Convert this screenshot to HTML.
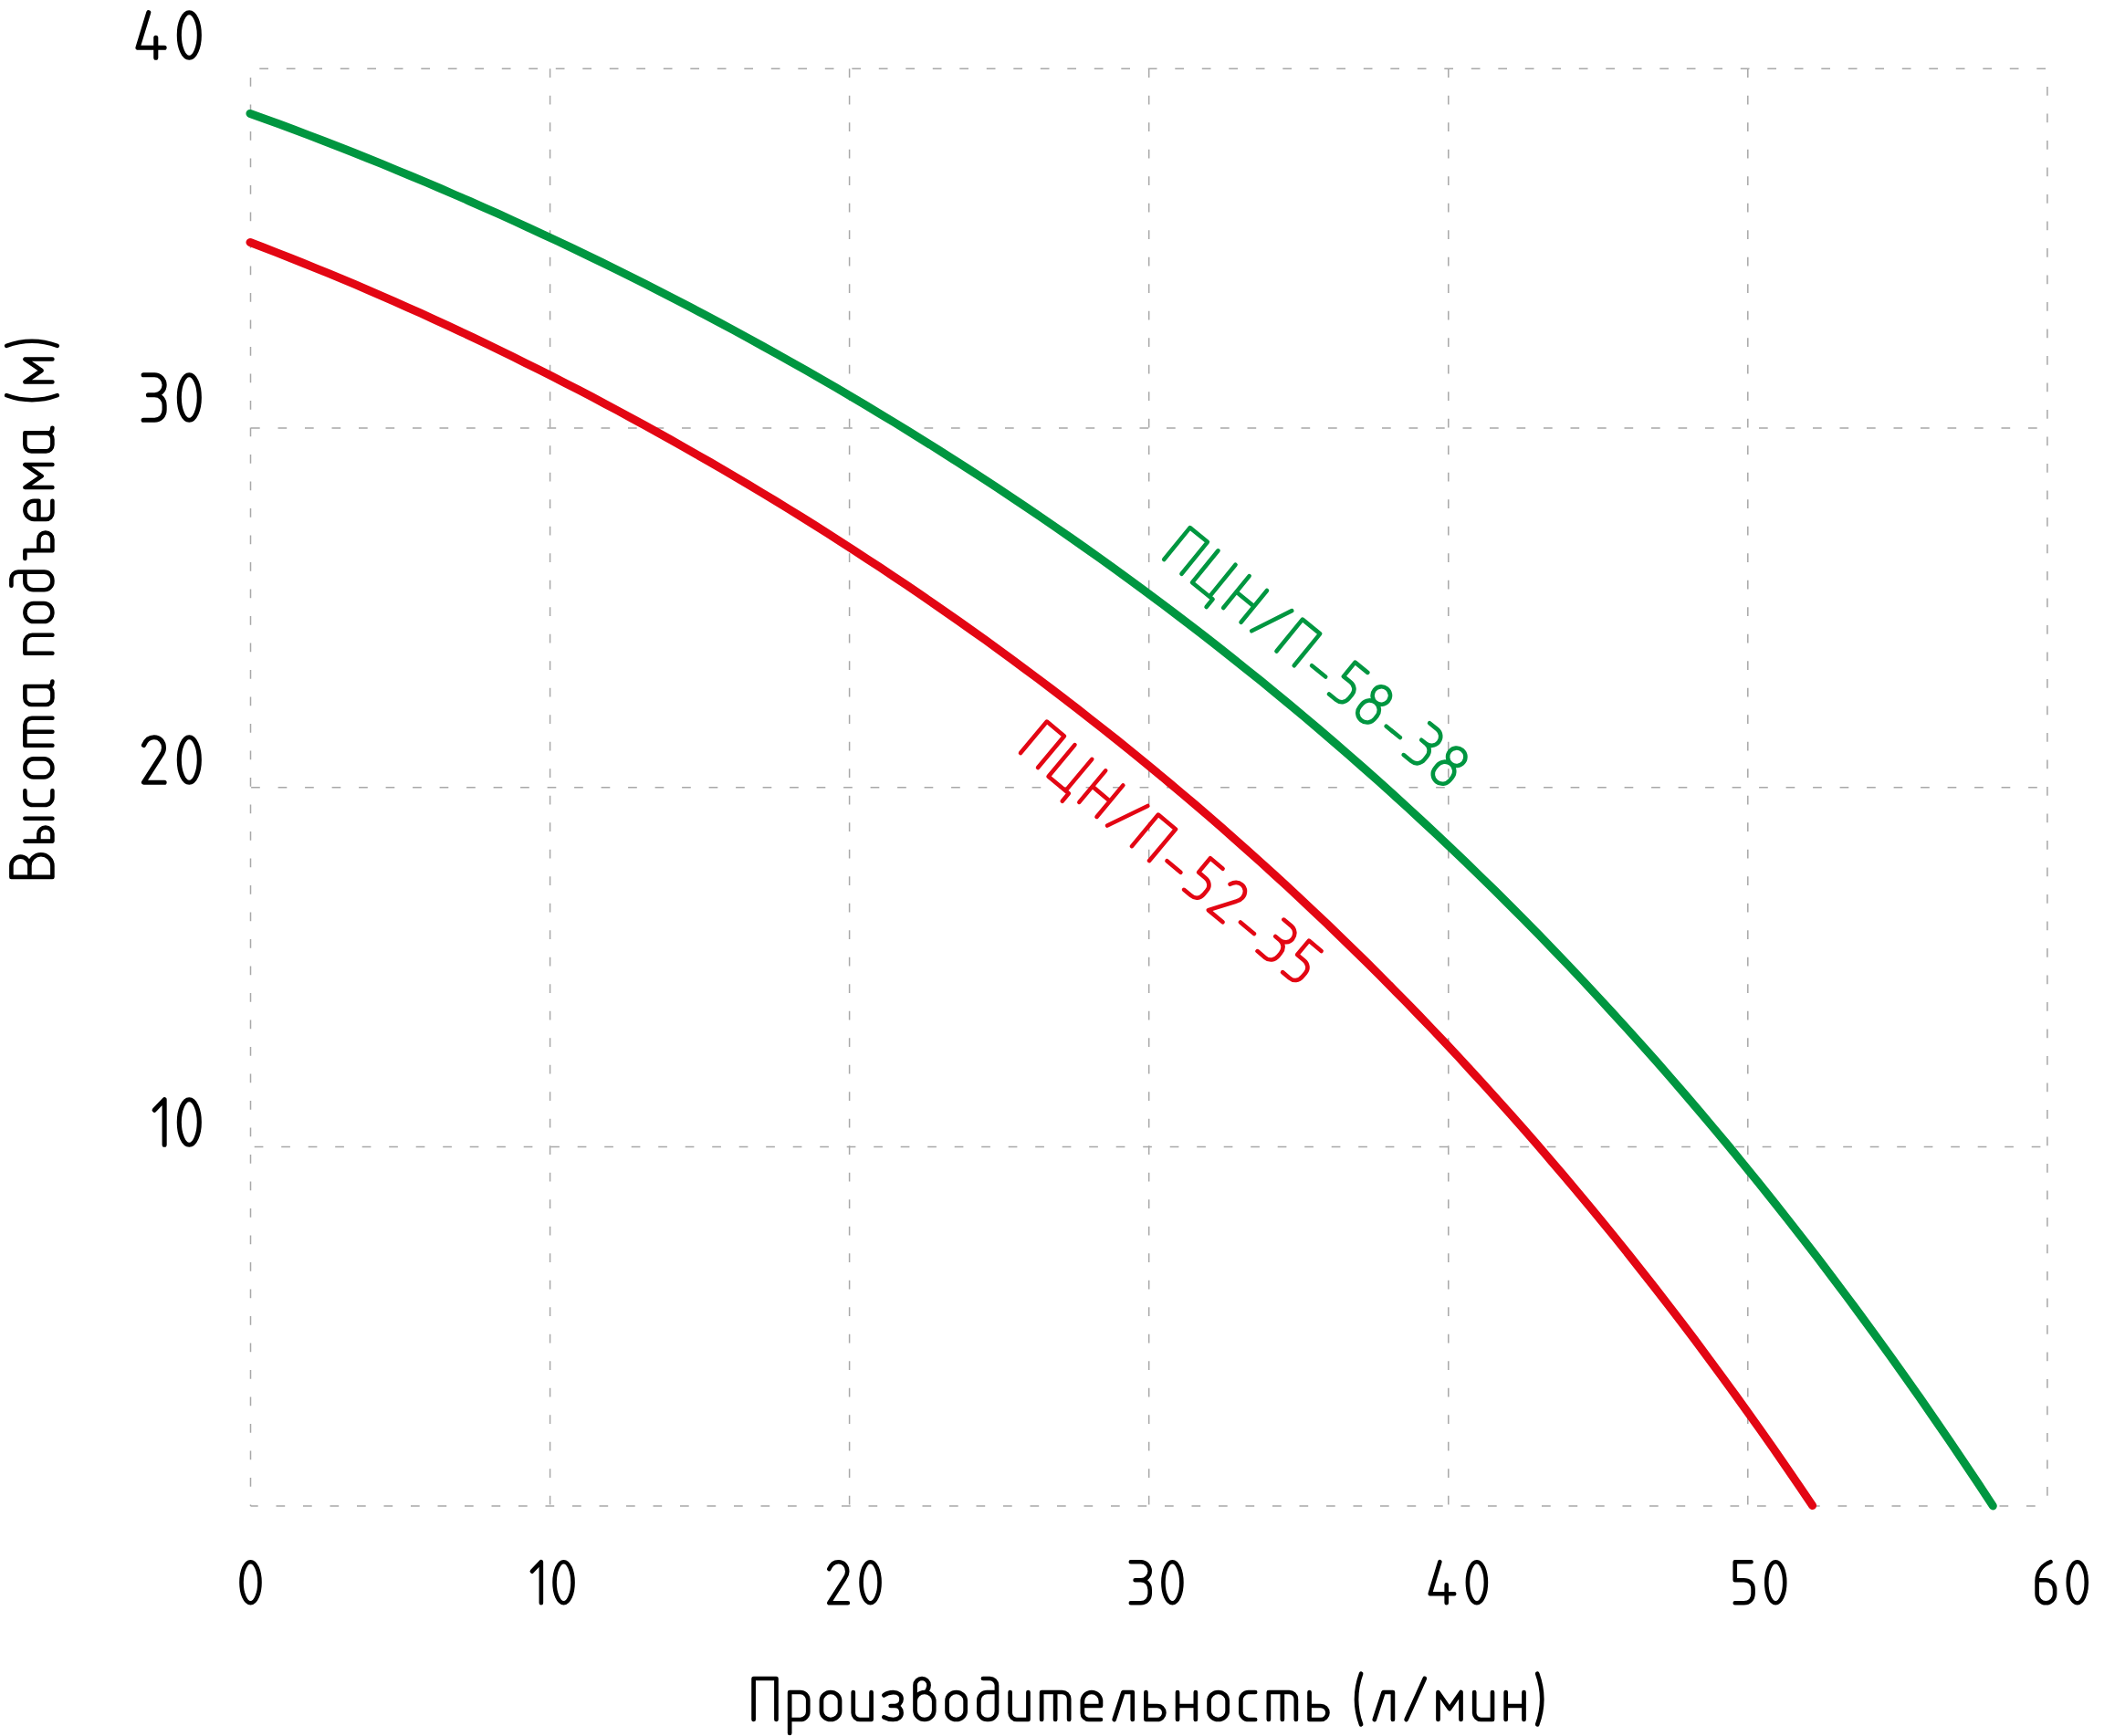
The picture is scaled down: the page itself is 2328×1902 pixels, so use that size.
<!DOCTYPE html>
<html><head><meta charset="utf-8"><style>
html,body{margin:0;padding:0;background:#fff;overflow:hidden;}
svg{display:block;}
</style></head><body>
<svg width="2328" height="1902" viewBox="0 0 2328 1902">
<g stroke="#a8a8a8" stroke-width="1.5" stroke-dasharray="9.7 19.8"><line x1="274.5" y1="75.3" x2="274.5" y2="1650.1" stroke-dashoffset="19.80"/><line x1="602.6" y1="75.3" x2="602.6" y2="1650.1" stroke-dashoffset="0.00"/><line x1="930.6" y1="75.3" x2="930.6" y2="1650.1" stroke-dashoffset="0.00"/><line x1="1258.7" y1="75.3" x2="1258.7" y2="1650.1" stroke-dashoffset="0.00"/><line x1="1586.8" y1="75.3" x2="1586.8" y2="1650.1" stroke-dashoffset="0.00"/><line x1="1914.8" y1="75.3" x2="1914.8" y2="1650.1" stroke-dashoffset="0.00"/><line x1="2242.9" y1="75.3" x2="2242.9" y2="1650.1" stroke-dashoffset="9.80"/><line x1="274.5" y1="75.3" x2="2244.0" y2="75.3" stroke-dashoffset="19.70"/><line x1="274.5" y1="469.0" x2="2244.0" y2="469.0" stroke-dashoffset="29.00"/><line x1="274.5" y1="862.7" x2="2244.0" y2="862.7" stroke-dashoffset="28.90"/><line x1="274.5" y1="1256.4" x2="2244.0" y2="1256.4" stroke-dashoffset="25.30"/><line x1="274.5" y1="1650.1" x2="2244.0" y2="1650.1" stroke-dashoffset="1.50"/></g>
<path d="M274.0,124.4 L290.0,130.2 L306.1,136.1 L322.1,142.0 L338.2,148.1 L354.2,154.3 L370.3,160.5 L386.3,166.8 L402.4,173.2 L418.4,179.7 L434.4,186.3 L450.5,193.0 L466.5,199.7 L482.6,206.5 L498.6,213.5 L514.7,220.5 L530.7,227.6 L546.8,234.7 L562.8,242.0 L578.8,249.4 L594.9,256.8 L610.9,264.3 L627.0,271.9 L643.0,279.6 L659.1,287.4 L675.1,295.3 L691.2,303.3 L707.2,311.3 L723.2,319.5 L739.3,327.7 L755.3,336.1 L771.4,344.5 L787.4,353.0 L803.5,361.6 L819.5,370.4 L835.6,379.2 L851.6,388.1 L867.6,397.1 L883.7,406.2 L899.7,415.4 L915.8,424.7 L931.8,434.1 L947.9,443.7 L963.9,453.3 L980.0,463.0 L996.0,472.9 L1012.0,482.8 L1028.1,492.9 L1044.1,503.1 L1060.2,513.4 L1076.2,523.8 L1092.3,534.3 L1108.3,544.9 L1124.4,555.7 L1140.4,566.6 L1156.4,577.6 L1172.5,588.7 L1188.5,600.0 L1204.6,611.4 L1220.6,622.9 L1236.7,634.6 L1252.7,646.4 L1268.8,658.3 L1284.8,670.4 L1300.9,682.6 L1316.9,694.9 L1332.9,707.4 L1349.0,720.1 L1365.0,732.9 L1381.1,745.8 L1397.1,758.9 L1413.2,772.2 L1429.2,785.6 L1445.3,799.2 L1461.3,813.0 L1477.3,826.9 L1493.4,841.0 L1509.4,855.2 L1525.5,869.7 L1541.5,884.3 L1557.6,899.1 L1573.6,914.0 L1589.7,929.2 L1605.7,944.5 L1621.7,960.1 L1637.8,975.8 L1653.8,991.7 L1669.9,1007.9 L1685.9,1024.2 L1702.0,1040.8 L1718.0,1057.5 L1734.1,1074.5 L1750.1,1091.7 L1766.1,1109.1 L1782.2,1126.7 L1798.2,1144.5 L1814.3,1162.6 L1830.3,1180.9 L1846.4,1199.5 L1862.4,1218.2 L1878.5,1237.3 L1894.5,1256.5 L1910.5,1276.1 L1926.6,1295.8 L1942.6,1315.9 L1958.7,1336.2 L1974.7,1356.7 L1990.8,1377.6 L2006.8,1398.7 L2022.9,1420.1 L2038.9,1441.7 L2054.9,1463.7 L2071.0,1485.9 L2087.0,1508.4 L2103.1,1531.2 L2119.1,1554.4 L2135.2,1577.8 L2151.2,1601.5 L2167.3,1625.6 L2183.3,1649.9" stroke="#009640" stroke-width="9" fill="none" stroke-linecap="round" stroke-linejoin="round"/>
<path d="M274.0,265.5 L288.4,271.0 L302.8,276.6 L317.1,282.2 L331.5,288.0 L345.9,293.8 L360.3,299.7 L374.7,305.7 L389.1,311.7 L403.4,317.9 L417.8,324.1 L432.2,330.4 L446.6,336.8 L461.0,343.2 L475.4,349.8 L489.7,356.4 L504.1,363.1 L518.5,369.9 L532.9,376.8 L547.3,383.7 L561.7,390.7 L576.0,397.9 L590.4,405.0 L604.8,412.3 L619.2,419.7 L633.6,427.1 L648.0,434.6 L662.3,442.2 L676.7,449.9 L691.1,457.7 L705.5,465.5 L719.9,473.5 L734.3,481.5 L748.6,489.6 L763.0,497.8 L777.4,506.0 L791.8,514.4 L806.2,522.8 L820.6,531.4 L834.9,540.0 L849.3,548.7 L863.7,557.5 L878.1,566.4 L892.5,575.4 L906.9,584.5 L921.2,593.7 L935.6,603.0 L950.0,612.4 L964.4,621.8 L978.8,631.4 L993.2,641.1 L1007.5,650.8 L1021.9,660.7 L1036.3,670.7 L1050.7,680.8 L1065.1,691.0 L1079.5,701.2 L1093.8,711.7 L1108.2,722.2 L1122.6,732.8 L1137.0,743.5 L1151.4,754.4 L1165.8,765.4 L1180.1,776.4 L1194.5,787.7 L1208.9,799.0 L1223.3,810.4 L1237.7,822.0 L1252.1,833.7 L1266.4,845.5 L1280.8,857.5 L1295.2,869.6 L1309.6,881.8 L1324.0,894.2 L1338.4,906.7 L1352.7,919.3 L1367.1,932.1 L1381.5,945.0 L1395.9,958.1 L1410.3,971.3 L1424.7,984.7 L1439.0,998.2 L1453.4,1011.8 L1467.8,1025.7 L1482.2,1039.7 L1496.6,1053.8 L1511.0,1068.1 L1525.3,1082.6 L1539.7,1097.2 L1554.1,1112.0 L1568.5,1127.0 L1582.9,1142.2 L1597.3,1157.5 L1611.6,1173.1 L1626.0,1188.8 L1640.4,1204.7 L1654.8,1220.7 L1669.2,1237.0 L1683.6,1253.5 L1697.9,1270.2 L1712.3,1287.0 L1726.7,1304.1 L1741.1,1321.4 L1755.5,1338.8 L1769.9,1356.5 L1784.2,1374.4 L1798.6,1392.6 L1813.0,1410.9 L1827.4,1429.5 L1841.8,1448.3 L1856.2,1467.3 L1870.5,1486.6 L1884.9,1506.1 L1899.3,1525.8 L1913.7,1545.8 L1928.1,1566.0 L1942.5,1586.5 L1956.8,1607.3 L1971.2,1628.2 L1985.6,1649.5" stroke="#e30613" stroke-width="9" fill="none" stroke-linecap="round" stroke-linejoin="round"/>
<g transform="translate(218.30,63.20) scale(1.1) translate(-61.20,0)" stroke="#000" stroke-width="4.636" fill="none" stroke-linecap="round" stroke-linejoin="round"><path transform="translate(0.00,0)" d="M10.7,-45 L0,-10 L26.5,-10 M18,-20 L18,0"/><path transform="translate(41.20,0)" d="M10,-45 A10,22.5 0 1 1 10,0 A10,22.5 0 1 1 10,-45 Z"/></g>
<g transform="translate(218.30,460.20) scale(1.1) translate(-55.60,0)" stroke="#000" stroke-width="4.636" fill="none" stroke-linecap="round" stroke-linejoin="round"><path transform="translate(0.00,0)" d="M0,-45 L11,-45 A9.9,10 0 0 1 11,-25 L4.8,-25 M11,-25 C17,-25 20.9,-20.5 20.9,-14.5 L20.9,-10.5 C20.9,-4.5 17,0 11,0 L0,0"/><path transform="translate(35.60,0)" d="M10,-45 A10,22.5 0 1 1 10,0 A10,22.5 0 1 1 10,-45 Z"/></g>
<g transform="translate(218.30,857.20) scale(1.1) translate(-55.30,0)" stroke="#000" stroke-width="4.636" fill="none" stroke-linecap="round" stroke-linejoin="round"><path transform="translate(0.00,0)" d="M0,-37 C2,-42 6,-45 10.3,-45 C16,-45 20,-40.5 20,-34.5 C20,-31 18.5,-28.5 17,-26.5 L0,0 L20.6,0"/><path transform="translate(35.30,0)" d="M10,-45 A10,22.5 0 1 1 10,0 A10,22.5 0 1 1 10,-45 Z"/></g>
<g transform="translate(218.30,1254.20) scale(1.1) translate(-44.70,0)" stroke="#000" stroke-width="4.636" fill="none" stroke-linecap="round" stroke-linejoin="round"><path transform="translate(0.00,0)" d="M0,-34.5 L10,-45 L10,0"/><path transform="translate(24.70,0)" d="M10,-45 A10,22.5 0 1 1 10,0 A10,22.5 0 1 1 10,-45 Z"/></g>
<g transform="translate(274.50,1756.20) translate(-10.00,0)" stroke="#000" stroke-width="4.600" fill="none" stroke-linecap="round" stroke-linejoin="round"><path transform="translate(0.00,0)" d="M10,-45 A10,22.5 0 1 1 10,0 A10,22.5 0 1 1 10,-45 Z"/></g>
<g transform="translate(605.20,1756.20) translate(-22.35,0)" stroke="#000" stroke-width="4.600" fill="none" stroke-linecap="round" stroke-linejoin="round"><path transform="translate(0.00,0)" d="M0,-34.5 L10,-45 L10,0"/><path transform="translate(24.70,0)" d="M10,-45 A10,22.5 0 1 1 10,0 A10,22.5 0 1 1 10,-45 Z"/></g>
<g transform="translate(935.90,1756.20) translate(-27.65,0)" stroke="#000" stroke-width="4.600" fill="none" stroke-linecap="round" stroke-linejoin="round"><path transform="translate(0.00,0)" d="M0,-37 C2,-42 6,-45 10.3,-45 C16,-45 20,-40.5 20,-34.5 C20,-31 18.5,-28.5 17,-26.5 L0,0 L20.6,0"/><path transform="translate(35.30,0)" d="M10,-45 A10,22.5 0 1 1 10,0 A10,22.5 0 1 1 10,-45 Z"/></g>
<g transform="translate(1266.60,1756.20) translate(-27.80,0)" stroke="#000" stroke-width="4.600" fill="none" stroke-linecap="round" stroke-linejoin="round"><path transform="translate(0.00,0)" d="M0,-45 L11,-45 A9.9,10 0 0 1 11,-25 L4.8,-25 M11,-25 C17,-25 20.9,-20.5 20.9,-14.5 L20.9,-10.5 C20.9,-4.5 17,0 11,0 L0,0"/><path transform="translate(35.60,0)" d="M10,-45 A10,22.5 0 1 1 10,0 A10,22.5 0 1 1 10,-45 Z"/></g>
<g transform="translate(1597.30,1756.20) translate(-30.60,0)" stroke="#000" stroke-width="4.600" fill="none" stroke-linecap="round" stroke-linejoin="round"><path transform="translate(0.00,0)" d="M10.7,-45 L0,-10 L26.5,-10 M18,-20 L18,0"/><path transform="translate(41.20,0)" d="M10,-45 A10,22.5 0 1 1 10,0 A10,22.5 0 1 1 10,-45 Z"/></g>
<g transform="translate(1928.00,1756.20) translate(-27.25,0)" stroke="#000" stroke-width="4.600" fill="none" stroke-linecap="round" stroke-linejoin="round"><path transform="translate(0.00,0)" d="M17.8,-45 L0,-45 L0,-25 L9.8,-25 C15.8,-25 19.8,-21 19.8,-15.5 L19.8,-10.5 C19.8,-4 15.8,0 9.8,0 L0,0"/><path transform="translate(34.50,0)" d="M10,-45 A10,22.5 0 1 1 10,0 A10,22.5 0 1 1 10,-45 Z"/></g>
<g transform="translate(2258.70,1756.20) translate(-27.10,0)" stroke="#000" stroke-width="4.600" fill="none" stroke-linecap="round" stroke-linejoin="round"><path transform="translate(0.00,0)" d="M15,-45 C7,-42 0,-35 0,-24 L0,-10 A9.75,10 0 0 0 19.5,-10 L19.5,-15 A9.75,10 0 0 0 9.75,-25 L0,-25"/><path transform="translate(34.20,0)" d="M10,-45 A10,22.5 0 1 1 10,0 A10,22.5 0 1 1 10,-45 Z"/></g>
<g transform="translate(825.60,1884.00) translate(0.00,0)" stroke="#000" stroke-width="4.700" fill="none" stroke-linecap="round" stroke-linejoin="round"><path transform="translate(0.00,0)" d="M0,0 L0,-45 L24.85,-45 L24.85,0"/><path transform="translate(39.55,0)" d="M0,15 L0,-30 L11.6,-30 A8.5,8.5 0 0 1 20.1,-21.5 L20.1,-8.5 A8.5,8.5 0 0 1 11.6,0 L0,0"/><path transform="translate(74.35,0)" d="M10.05,-30 A10.05,9.3 0 0 1 20.1,-20.7 L20.1,-9.3 A10.05,9.3 0 0 1 0,-9.3 L0,-20.7 A10.05,9.3 0 0 1 10.05,-30 Z"/><path transform="translate(109.15,0)" d="M0,-30 L0,-7.2 A7.2,7.2 0 0 0 7.2,0 L19.8,0 M19.8,-30 L19.8,0"/><path transform="translate(143.65,0)" d="M-0.9,-26.6 C2,-28.8 5.5,-29.8 9.3,-29.8 C15,-29.8 18.3,-26.5 18.3,-22.5 C18.3,-18 15,-15 11,-15 L6.4,-15 M11,-15 C15.5,-15 18.3,-11.5 18.3,-7.5 C18.3,-3 15,0 9.3,0 C5.5,0 2,-1 -0.9,-2.6"/><path transform="translate(176.95,0)" d="M0,-10 L0,-37.7 A7.5,7.3 0 0 1 15,-37.7 C15,-33.5 12.5,-30 10.3,-30 A10.4,10 0 0 1 20.7,-20 L20.7,-10 A10.35,10 0 0 1 0,-10 M0,-20 A10.3,10 0 0 1 10.3,-30"/><path transform="translate(211.95,0)" d="M10.05,-30 A10.05,9.3 0 0 1 20.1,-20.7 L20.1,-9.3 A10.05,9.3 0 0 1 0,-9.3 L0,-20.7 A10.05,9.3 0 0 1 10.05,-30 Z"/><path transform="translate(246.75,0)" d="M4.6,-45 L12,-45 A7.6,7.6 0 0 1 19.6,-37.4 L19.6,-9 A9,9 0 0 1 10.6,0 L9,0 A9,9 0 0 1 0,-9 L0,-21 A9,9 0 0 1 9,-30 L19.6,-30"/><path transform="translate(281.05,0)" d="M0,-30 L0,-7.2 A7.2,7.2 0 0 0 7.2,0 L19.8,0 M19.8,-30 L19.8,0"/><path transform="translate(315.55,0)" d="M0,0 L0,-30 L22.5,-30 A7.5,7.5 0 0 1 30,-22.5 L30,0 M15,-30 L15,0"/><path transform="translate(360.25,0)" d="M20.1,-15 L0,-15 M20.1,-15 L20.1,-20 A10.05,10 0 0 0 0,-20 L0,-7 A7,7 0 0 0 7,0 L20.1,0"/><path transform="translate(395.05,0)" d="M0,0 L9.8,-30 L20.1,-30 L20.1,0"/><path transform="translate(429.85,0)" d="M0,-30 L0,0 L12.4,0 A7.5,7.5 0 0 0 12.4,-15 L0,-15"/><path transform="translate(464.45,0)" d="M0,-30 L0,0 M19.8,-30 L19.8,0 M0,-15 L19.8,-15"/><path transform="translate(498.95,0)" d="M10.05,-30 A10.05,9.3 0 0 1 20.1,-20.7 L20.1,-9.3 A10.05,9.3 0 0 1 0,-9.3 L0,-20.7 A10.05,9.3 0 0 1 10.05,-30 Z"/><path transform="translate(533.75,0)" d="M15.8,-30 L8.5,-30 A8.5,8.5 0 0 0 0,-21.5 L0,-8.5 A8.5,8.5 0 0 0 8.5,0 L15.8,0"/><path transform="translate(564.25,0)" d="M0,0 L0,-30 L22.5,-30 A7.5,7.5 0 0 1 30,-22.5 L30,0 M15,-30 L15,0"/><path transform="translate(608.95,0)" d="M0,-30 L0,0 L12.4,0 A7.5,7.5 0 0 0 12.4,-15 L0,-15"/><path transform="translate(660.60,0)" d="M4.9,-50.3 A81.6,81.6 0 0 0 4.9,5.4"/><path transform="translate(680.20,0)" d="M0,0 L9.8,-30 L20.1,-30 L20.1,0"/><path transform="translate(715.00,0)" d="M0,0 L20.2,-45"/><path transform="translate(749.90,0)" d="M0,0 L0,-30 L12.5,-11.8 L25,-30 L25,0"/><path transform="translate(789.60,0)" d="M0,-30 L0,-7.2 A7.2,7.2 0 0 0 7.2,0 L19.8,0 M19.8,-30 L19.8,0"/><path transform="translate(824.10,0)" d="M0,-30 L0,0 M19.8,-30 L19.8,0 M0,-15 L19.8,-15"/><path transform="translate(858.60,0)" d="M0,-50.3 A81.6,81.6 0 0 1 0,5.4"/></g>
<g transform="translate(57.40,960.90) rotate(-90.000) translate(0.00,0)" stroke="#000" stroke-width="4.600" fill="none" stroke-linecap="round" stroke-linejoin="round"><path transform="translate(0.00,0)" d="M0,0 L0,-45 L12.3,-45 A10,10 0 0 1 12.3,-25 L0,-25 M12.3,-25 A12.3,12.5 0 0 1 12.3,0 L0,0"/><path transform="translate(39.30,0)" d="M0,-30 L0,0 L8,0 A7,7.5 0 0 0 8,-15 L0,-15 M24.9,-30 L24.9,0"/><path transform="translate(78.90,0)" d="M15.8,-30 L8.5,-30 A8.5,8.5 0 0 0 0,-21.5 L0,-8.5 A8.5,8.5 0 0 0 8.5,0 L15.8,0"/><path transform="translate(109.40,0)" d="M10.05,-30 A10.05,9.3 0 0 1 20.1,-20.7 L20.1,-9.3 A10.05,9.3 0 0 1 0,-9.3 L0,-20.7 A10.05,9.3 0 0 1 10.05,-30 Z"/><path transform="translate(144.20,0)" d="M0,0 L0,-30 L22.5,-30 A7.5,7.5 0 0 1 30,-22.5 L30,0 M15,-30 L15,0"/><path transform="translate(188.90,0)" d="M20,-30 L7,-30 A7,7 0 0 0 0,-23 L0,-7 A7,7 0 0 0 7,0 L13,0 A7,7 0 0 0 20,-7 M20,-30 L20,-3 Q21,0 25.5,0"/><path transform="translate(245.15,0)" d="M0,0 L0,-30 L12,-30 A8,8 0 0 1 20,-22 L20,0"/><path transform="translate(279.85,0)" d="M10.05,-30 A10.05,9.3 0 0 1 20.1,-20.7 L20.1,-9.3 A10.05,9.3 0 0 1 0,-9.3 L0,-20.7 A10.05,9.3 0 0 1 10.05,-30 Z"/><path transform="translate(314.65,0)" d="M4.6,-45 L12,-45 A7.6,7.6 0 0 1 19.6,-37.4 L19.6,-9 A9,9 0 0 1 10.6,0 L9,0 A9,9 0 0 1 0,-9 L0,-21 A9,9 0 0 1 9,-30 L19.6,-30"/><path transform="translate(348.95,0)" d="M0,-30 L8.8,-30 L8.8,0 L20.9,0 A7.5,7.5 0 0 0 20.9,-15 L8.8,-15"/><path transform="translate(392.05,0)" d="M20.1,-15 L0,-15 M20.1,-15 L20.1,-20 A10.05,10 0 0 0 0,-20 L0,-7 A7,7 0 0 0 7,0 L20.1,0"/><path transform="translate(426.85,0)" d="M0,0 L0,-30 L12.5,-11.8 L25,-30 L25,0"/><path transform="translate(466.55,0)" d="M20,-30 L7,-30 A7,7 0 0 0 0,-23 L0,-7 A7,7 0 0 0 7,0 L13,0 A7,7 0 0 0 20,-7 M20,-30 L20,-3 Q21,0 25.5,0"/><path transform="translate(522.80,0)" d="M4.9,-50.3 A81.6,81.6 0 0 0 4.9,5.4"/><path transform="translate(542.40,0)" d="M0,0 L0,-30 L12.5,-11.8 L25,-30 L25,0"/><path transform="translate(582.10,0)" d="M0,-50.3 A81.6,81.6 0 0 1 0,5.4"/></g>
<g transform="translate(1275.20,613.00) rotate(39.200) translate(0.00,0)" stroke="#009640" stroke-width="4.600" fill="none" stroke-linecap="round" stroke-linejoin="round"><path transform="translate(0.00,0)" d="M0,0 L0,-45 L24.85,-45 L24.85,0"/><path transform="translate(39.85,0)" d="M0,-45 L0,0 L29,0 L29,11 M24.5,-45 L24.5,0"/><path transform="translate(83.85,0)" d="M0,-45 L0,0 M25,-45 L25,0 M0,-22.5 L25,-22.5"/><path transform="translate(123.85,0)" d="M0,0 L20.2,-45"/><path transform="translate(159.05,0)" d="M0,0 L0,-45 L24.85,-45 L24.85,0"/><path transform="translate(198.90,0)" d="M0,-12.3 L19.5,-12.3"/><path transform="translate(233.40,0)" d="M17.8,-45 L0,-45 L0,-25 L9.8,-25 C15.8,-25 19.8,-21 19.8,-15.5 L19.8,-10.5 C19.8,-4 15.8,0 9.8,0 L0,0"/><path transform="translate(268.20,0)" d="M10.5,-44.7 A9.7,9.7 0 1 1 10.5,-25.3 A9.7,9.7 0 1 1 10.5,-44.7 Z M0,-14.5 A10.5,10.5 0 0 1 21,-14.5 L21,-10.5 A10.5,10.5 0 0 1 0,-10.5 Z"/><path transform="translate(304.20,0)" d="M0,-12.3 L19.5,-12.3"/><path transform="translate(338.70,0)" d="M0,-45 L11,-45 A9.9,10 0 0 1 11,-25 L4.8,-25 M11,-25 C17,-25 20.9,-20.5 20.9,-14.5 L20.9,-10.5 C20.9,-4.5 17,0 11,0 L0,0"/><path transform="translate(374.60,0)" d="M10.5,-44.7 A9.7,9.7 0 1 1 10.5,-25.3 A9.7,9.7 0 1 1 10.5,-44.7 Z M0,-14.5 A10.5,10.5 0 0 1 21,-14.5 L21,-10.5 A10.5,10.5 0 0 1 0,-10.5 Z"/></g>
<g transform="translate(1118.00,825.10) rotate(39.900) translate(0.00,0)" stroke="#e30613" stroke-width="4.600" fill="none" stroke-linecap="round" stroke-linejoin="round"><path transform="translate(0.00,0)" d="M0,0 L0,-45 L24.85,-45 L24.85,0"/><path transform="translate(39.85,0)" d="M0,-45 L0,0 L29,0 L29,11 M24.5,-45 L24.5,0"/><path transform="translate(83.85,0)" d="M0,-45 L0,0 M25,-45 L25,0 M0,-22.5 L25,-22.5"/><path transform="translate(123.85,0)" d="M0,0 L20.2,-45"/><path transform="translate(159.05,0)" d="M0,0 L0,-45 L24.85,-45 L24.85,0"/><path transform="translate(198.90,0)" d="M0,-12.3 L19.5,-12.3"/><path transform="translate(233.40,0)" d="M17.8,-45 L0,-45 L0,-25 L9.8,-25 C15.8,-25 19.8,-21 19.8,-15.5 L19.8,-10.5 C19.8,-4 15.8,0 9.8,0 L0,0"/><path transform="translate(268.20,0)" d="M0,-37 C2,-42 6,-45 10.3,-45 C16,-45 20,-40.5 20,-34.5 C20,-31 18.5,-28.5 17,-26.5 L0,0 L20.6,0"/><path transform="translate(303.80,0)" d="M0,-12.3 L19.5,-12.3"/><path transform="translate(338.30,0)" d="M0,-45 L11,-45 A9.9,10 0 0 1 11,-25 L4.8,-25 M11,-25 C17,-25 20.9,-20.5 20.9,-14.5 L20.9,-10.5 C20.9,-4.5 17,0 11,0 L0,0"/><path transform="translate(374.20,0)" d="M17.8,-45 L0,-45 L0,-25 L9.8,-25 C15.8,-25 19.8,-21 19.8,-15.5 L19.8,-10.5 C19.8,-4 15.8,0 9.8,0 L0,0"/></g>
</svg>
</body></html>
